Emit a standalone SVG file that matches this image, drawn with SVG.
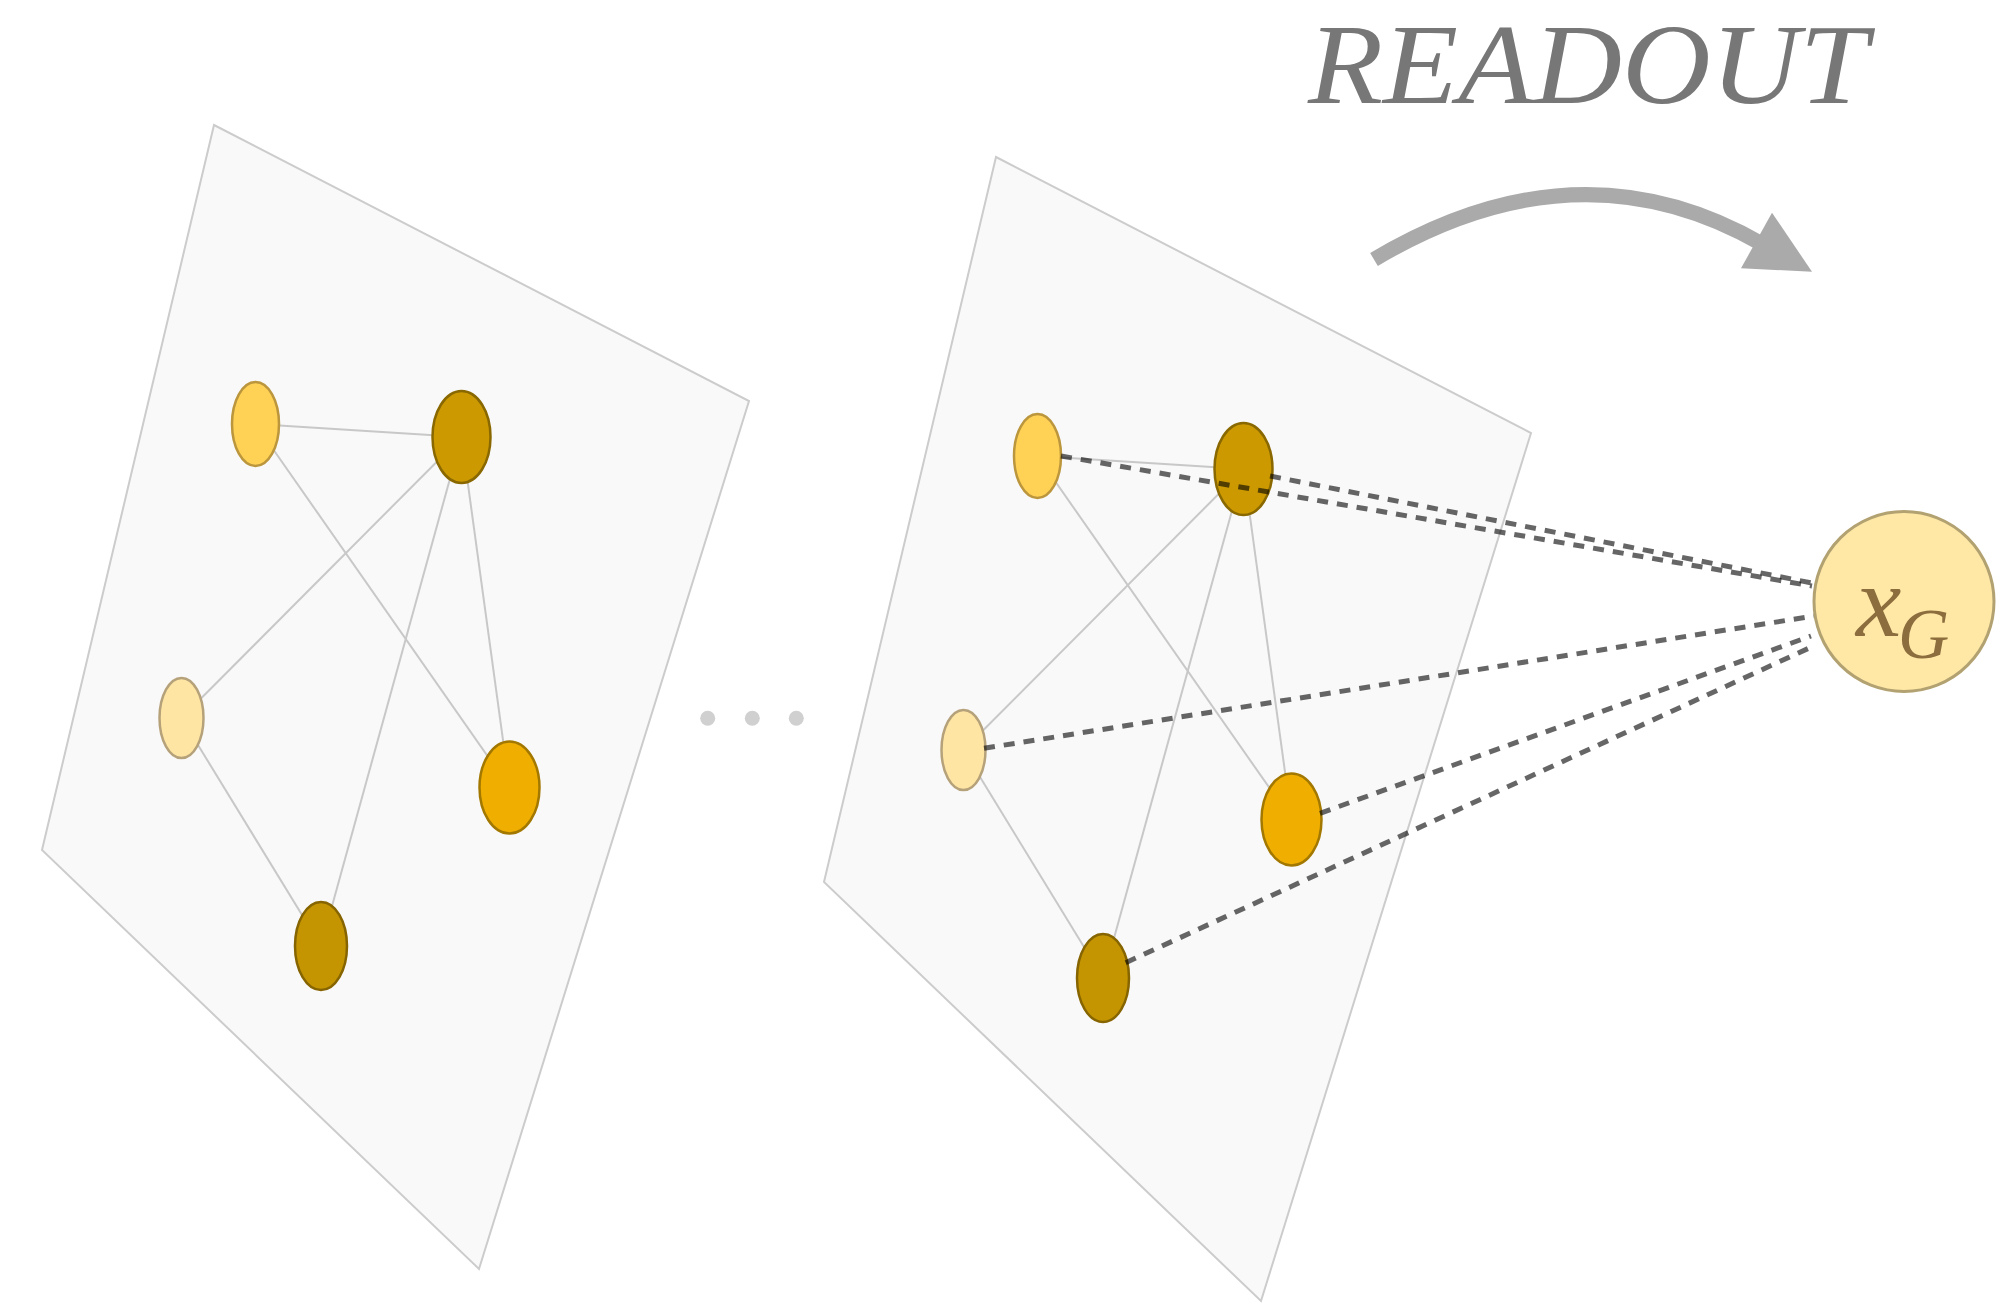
<svg xmlns="http://www.w3.org/2000/svg" width="2014" height="1303" viewBox="0 0 2014 1303">
  <style>
    .plane { fill: #f9f9f9; stroke: #cccccc; stroke-width: 2; stroke-linejoin: miter; }
    .edge { stroke: #c8c8c8; stroke-width: 2; fill: none; }
    .link { stroke: #000000; stroke-opacity: 0.6; stroke-width: 5; stroke-dasharray: 11 9; fill: none; }
    .node { stroke-width: 2.5; }
    .na { fill: #ffd155; stroke: #bb963c; }
    .nb { fill: #cc9a00; stroke: #8a6800; }
    .nc { fill: #ffe5a3; stroke: #b6a27a; }
    .nd { fill: #f0af00; stroke: #a37800; }
    .ne { fill: #c49500; stroke: #866500; }
    .dot { fill: #d0d0d0; }
    .title { font-family: "Liberation Serif", "Times New Roman", serif; font-style: italic; font-size: 114px; fill: #777777; }
    .math { font-family: "Liberation Serif", "Times New Roman", serif; font-style: italic; fill: #8c6d3d; }
  </style>

  <!-- layers -->
  <g id="layer-1">
    <polygon class="plane" points="214,125 749,401 479,1269 42,850"/>
  </g>
  <g id="layer-n">
    <polygon class="plane" points="996,157 1531,433 1261,1301 824,882"/>
  </g>

  <!-- graph edges inside each layer -->
  <g id="edges">
    <g id="edges-layer-1" transform="translate(-782,-32)">
      <line class="edge" x1="1037.5" y1="456" x2="1243.5" y2="469"/>
      <line class="edge" x1="1037.5" y1="456" x2="1291.5" y2="819.5"/>
      <line class="edge" x1="1243.5" y1="469" x2="963.5" y2="750"/>
      <line class="edge" x1="1243.5" y1="469" x2="1103" y2="978"/>
      <line class="edge" x1="1243.5" y1="469" x2="1291.5" y2="819.5"/>
      <line class="edge" x1="963.5" y1="750" x2="1103" y2="978"/>
    </g>
    <g id="edges-layer-n">
      <line class="edge" x1="1037.5" y1="456" x2="1243.5" y2="469"/>
      <line class="edge" x1="1037.5" y1="456" x2="1291.5" y2="819.5"/>
      <line class="edge" x1="1243.5" y1="469" x2="963.5" y2="750"/>
      <line class="edge" x1="1243.5" y1="469" x2="1103" y2="978"/>
      <line class="edge" x1="1243.5" y1="469" x2="1291.5" y2="819.5"/>
      <line class="edge" x1="963.5" y1="750" x2="1103" y2="978"/>
    </g>
  </g>

  <!-- nodes of the first layer -->
  <g id="l1-a"><ellipse class="node na" cx="255.5" cy="424" rx="23.5" ry="42"/></g>
  <g id="l1-b"><ellipse class="node nb" cx="461.5" cy="437" rx="29" ry="46"/></g>
  <g id="l1-c"><ellipse class="node nc" cx="181.5" cy="718" rx="22" ry="40"/></g>
  <g id="l1-d"><ellipse class="node nd" cx="509.5" cy="787.5" rx="30" ry="46"/></g>
  <g id="l1-e"><ellipse class="node ne" cx="321" cy="946" rx="26" ry="44"/></g>

  <!-- nodes of the last layer -->
  <g id="ln-a"><ellipse class="node na" cx="1037.5" cy="456" rx="23.5" ry="42"/></g>
  <g id="ln-b"><ellipse class="node nb" cx="1243.5" cy="469" rx="29" ry="46"/></g>
  <g id="ln-c"><ellipse class="node nc" cx="963.5" cy="750" rx="22" ry="40"/></g>
  <g id="ln-d"><ellipse class="node nd" cx="1291.5" cy="819.5" rx="30" ry="46"/></g>
  <g id="ln-e"><ellipse class="node ne" cx="1103" cy="978" rx="26" ry="44"/></g>

  <!-- ellipsis between layers -->
  <g id="ellipsis">
    <circle class="dot" cx="707.7" cy="718.3" r="7.5"/>
    <circle class="dot" cx="752.3" cy="718.3" r="7.5"/>
    <circle class="dot" cx="796.3" cy="718.3" r="7.5"/>
  </g>

  <!-- readout links to the graph embedding -->
  <g id="readout-links">
    <line class="link" x1="1061" y1="456" x2="1812" y2="586"/>
    <line class="link" x1="1270" y1="476" x2="1812" y2="583"/>
    <line class="link" x1="984" y1="748.3" x2="1814" y2="616"/>
    <line class="link" x1="1320" y1="813.3" x2="1811" y2="636"/>
    <line class="link" x1="1125.7" y1="962.7" x2="1812" y2="646.7"/>
  </g>

  <!-- graph embedding node -->
  <g id="x-g">
    <circle cx="1904" cy="601.5" r="90" fill="#ffe8a6" stroke="#b3a271" stroke-width="3"/>
    <text class="math" x="1856" y="636" font-size="102">x</text>
    <text class="math" x="1898" y="658" font-size="71">G</text>
  </g>

  <!-- readout label and arrow -->
  <g id="readout">
    <text class="title" x="1308" y="102.7" textLength="560" lengthAdjust="spacingAndGlyphs">READOUT</text>
    <path d="M1374,259.5 Q1578,138 1762,244" fill="none" stroke="#aaaaaa" stroke-width="15"/>
    <polygon points="1772,212.7 1812,271.7 1741,268.3" fill="#aaaaaa"/>
  </g>
</svg>
